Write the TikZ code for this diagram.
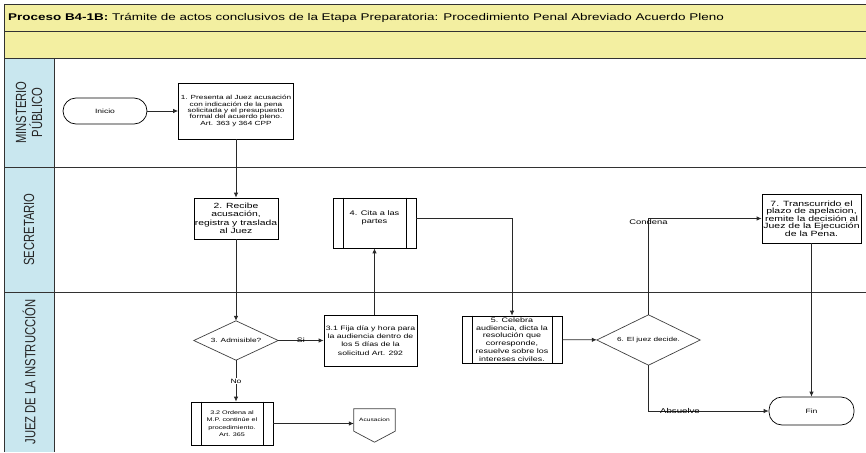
\documentclass[tikz,border=0pt]{standalone}
\usepackage{fontspec}
\setmainfont{Liberation Sans}[FakeStretch=1.38]
\newfontfamily\lanefont{Liberation Sans}[FakeStretch=0.765]
\usetikzlibrary{arrows.meta}

\definecolor{bandyellow}{RGB}{243,239,161}
\definecolor{lanecyan}{RGB}{201,231,239}
\definecolor{rule}{RGB}{50,50,50}
\definecolor{flowline}{RGB}{40,40,40}

\tikzset{
  fs/.style 2 args={font=\fontsize{#1}{#2}\selectfont},
  box/.style={draw=black, line width=0.7pt, fill=white, inner sep=0pt, align=center},
  term/.style={box, rounded corners=13pt},
  shapeholder/.style={inner sep=0pt, align=center},
  outline/.style={draw=black!75, line width=0.7pt},
  link/.style={draw=flowline, line width=0.8pt, -{Latex[length=5pt,width=4.5pt]}},
  lbl/.style={inner sep=1pt},
  lanetitle/.style={rotate=90, align=center, font=\lanefont\fontsize{14.7}{16}\selectfont, text=black!85},
  frame/.style={draw=rule, line width=0.9pt},
}

\begin{document}
\begin{tikzpicture}[x=1pt, y=-1pt]
  \useasboundingbox (0,0) rectangle (866,452);

  % header bands
  \fill[bandyellow] (4,4) rectangle (866,58);
  % lane title column
  \fill[lanecyan] (4,58) rectangle (54,452);

  % frame lines
  \draw[frame] (4,4) -- (866,4);
  \draw[frame] (4,31) -- (866,31);
  \draw[frame] (4,58) -- (866,58);
  \draw[frame] (4,167) -- (866,167);
  \draw[frame] (4,292) -- (866,292);
  \draw[frame] (4,4) -- (4,452);
  \draw[frame] (54,58) -- (54,452);

  % header text
  \node[anchor=west, inner sep=0pt, fs={9.75}{12}] (title) at (8,17.5)
    {\textbf{Proceso B4-1B:} Trámite de actos conclusivos de la Etapa Preparatoria: Procedimiento Penal Abreviado Acuerdo Pleno};

  % lane titles
  \node[lanetitle] (lane1) at (29,112.5) {MINSTERIO\\PÚBLICO};
  \node[lanetitle] (lane2) at (29,229.5) {SECRETARIO};
  \node[lanetitle] (lane3) at (29,372) {JUEZ DE LA INSTRUCCIÓN};

  % Ministerio Publico
  \node[term, minimum width=84pt, minimum height=26pt, fs={6.2}{7}] (ini) at (105,111) {Inicio};
  \node[box, minimum width=115pt, minimum height=56pt, fs={5.95}{6.3}] (b1) at (236,111)
    {1. Presenta al Juez acusación\\con indicación de la pena\\solicitada y el presupuesto\\formal del acuerdo pleno.\\Art. 363 y 364 CPP};

  % Secretario
  \node[box, minimum width=84pt, minimum height=41pt, fs={7.5}{8.4}] (b2) at (236,218.5)
    {2. Recibe\\acusación,\\registra y traslada\\al Juez};
  \node[box, minimum width=83pt, minimum height=50pt, fs={6.7}{8.5}] (b4) at (374.5,223)
    {4. Cita a las\\partes\\[3pt]};
  \node[box, minimum width=99pt, minimum height=49pt, fs={7.6}{7.5}] (b7) at (811.5,218.5)
    {7. Transcurrido el\\plazo de apelacion,\\remite la decisión al\\Juez de la Ejecución\\de la Pena.};

  % Juez de la Instruccion
  \node[shapeholder, minimum width=84pt, minimum height=39pt, fs={6.0}{7}] (d3) at (236,340.5) {3. Admisible?};
  \draw[outline] (d3.north) -- (d3.east) -- (d3.south) -- (d3.west) -- cycle;

  \node[box, minimum width=93pt, minimum height=51pt, fs={6.3}{8.3}] (b31) at (370.5,340.5)
    {3.1 Fija día y hora para\\la audiencia dentro de\\los 5 días de la\\solicitud Art. 292};

  \node[box, minimum width=82pt, minimum height=43pt, fs={5.2}{7.5}] (b32) at (232,423.5)
    {3.2 Ordena al\\M.P. continúe el\\procedimiento.\\Art. 365};

  \node[shapeholder, minimum width=41pt, minimum height=22pt, fs={4.8}{6}] (acus) at (374.5,420) {Acusacion};
  \draw[outline] (acus.north west) -- (acus.north east) -- (acus.south east)
    -- ([yshift=-11pt]acus.south) -- (acus.south west) -- cycle;

  \node[box, minimum width=100pt, minimum height=47pt, fs={6.5}{7.8}] (b5) at (512,339.5)
    {5. Celebra\\audiencia, dicta la\\resolución que\\corresponde,\\resuelve sobre los\\intereses civiles.};

  \node[shapeholder, minimum width=103pt, minimum height=50pt, fs={5.9}{7}] (d6) at (648.5,340) {6. El juez decide.};
  \draw[outline] (d6.north) -- (d6.east) -- (d6.south) -- (d6.west) -- cycle;

  \node[term, minimum width=85pt, minimum height=28pt, fs={6.2}{7}] (fin) at (811.5,411) {Fin};

  % subprocess side bars
  \foreach \n in {b4,b32,b5}{
    \draw[line width=0.7pt] ([xshift=10.5pt]\n.north west) -- ([xshift=10.5pt]\n.south west);
    \draw[line width=0.7pt] ([xshift=-10.5pt]\n.north east) -- ([xshift=-10.5pt]\n.south east);
  }

  % connectors
  \draw[link] (ini) -- (b1);
  \draw[link] (b1) -- (b2);
  \draw[link] (b2) -- (d3);
  \draw[link] (d3) -- node[lbl, fs={6.5}{7}] {Si} (b31);
  \draw[link] (d3) -- node[lbl, fill=white, fs={6.2}{7}] {No} (d3.south |- b32.north);
  \draw[link] (b31.north -| b4.south) -- (b4.south);
  \draw[link] ([yshift=5pt]b4.east) -| (b5.north);
  \draw[link] (b32.east) -- (b32.east -| acus.west);
  \draw[link] (b5) -- (d6);
  \draw[link] (d6.north) |- node[lbl, pos=0.5, yshift=-4pt, fs={6.8}{7}] {Condena} (b7.west);
  \draw[link] (d6.south) |- node[lbl, pos=0.631, fs={7.0}{7}] {Absuelve} (fin.west);
  \draw[link] (b7) -- (fin);
\end{tikzpicture}
\end{document}
